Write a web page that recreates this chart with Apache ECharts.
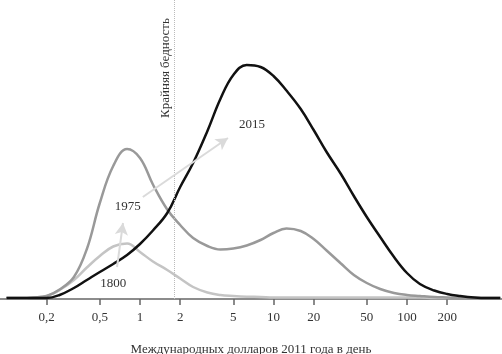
<!DOCTYPE html>
<html>
<head>
<meta charset="utf-8">
<script src="https://cdn.jsdelivr.net/npm/echarts@6/dist/echarts.min.js"></script>
<style>
  html, body { margin: 0; padding: 0; background: #fff; }
  #chart { width: 502px; height: 354px; }
</style>
</head>
<body>
<div id="chart"></div>
<script>
// доход, международных долларов 2011 года в день (10 точек на декаду)
const income = [0.1, 0.125, 0.16, 0.2, 0.25, 0.32, 0.4, 0.5, 0.63, 0.8,
                1, 1.25, 1.6, 2, 2.5, 3.2, 4, 5, 6.3, 8,
                10, 12.5, 16, 20, 25, 32, 40, 50, 63, 80,
                100, 125, 160, 200, 250, 320, 400, 500];
const y1800 = [1, 1, 1.5, 3, 9, 19, 31.5, 43, 52.5, 55.5,
               47, 37.5, 29, 20.5, 12, 6.5, 4, 3, 2.3, 2,
               1.5, 1.5, 1.5, 1.5, 1.5, 1.5, 1.5, 1.5, 1.5, 1.5,
               1.5, 1.5, 1, 1, 1, 1, 1, 1];
const y1975 = [1, 1, 1.5, 3, 9.5, 22, 50, 96, 133, 150,
               141, 114.5, 89.5, 74, 61, 53, 49.5, 50.5, 53.5, 59,
               66, 70.5, 68, 60, 48.5, 35.5, 24, 16, 10, 6,
               4, 3, 2, 1.5, 1, 1, 1, 1];
const y2015 = [1, 1, 1, 1, 4, 11, 19, 27, 35, 44,
               55, 68.5, 86, 112, 136, 168, 200, 224, 234, 232,
               223, 208.5, 190, 169, 147, 125, 103, 82, 62, 42,
               26, 15, 8.5, 5, 3, 1.5, 1, 1];
const tickValues = [0.2, 0.5, 1, 2, 5, 10, 20, 50, 100, 200];
const povertyLine = 1.8;

const pairs = (ys) => income.map((x, i) => [x, ys[i]]);
const font = 'Liberation Serif';
const textLabel = (text, coord, extra) => ({
    coord: coord,
    symbolSize: 0,
    label: Object.assign({
        show: true, formatter: text, color: '#333', fontSize: 13, fontFamily: font
    }, extra || {})
});

const chart = echarts.init(document.getElementById('chart'));
chart.setOption({
    animation: false,
    grid: { left: 0, right: 0, top: 0, bottom: 55, outerBoundsMode: 'none', containLabel: false },
    xAxis: {
        type: 'log',
        logBase: 10,
        min: 0.0894,
        max: 515,
        name: 'Международных долларов 2011 года в день',
        nameLocation: 'middle',
        nameGap: 44,
        nameTextStyle: { color: '#333', fontSize: 13, fontFamily: font },
        axisLine: { lineStyle: { color: '#666', width: 1.5 } },
        axisTick: { show: true, length: 6, customValues: tickValues, lineStyle: { color: '#666', width: 1.5 } },
        axisLabel: {
            customValues: tickValues,
            margin: 12,
            color: '#333', fontSize: 13, fontFamily: font,
            formatter: (v) => String(v).replace('.', ',')
        },
        splitLine: { show: false },
        minorTick: { show: false }
    },
    yAxis: { type: 'value', min: 0, max: 299, show: false },
    series: [
        {
            name: '1800', type: 'line', smooth: 0.4, symbol: 'none',
            lineStyle: { color: '#c4c4c4', width: 2.5 },
            data: pairs(y1800),
            z: 2,
            markLine: {
                silent: true, symbol: 'none',
                label: { show: false },
                lineStyle: { color: '#bbb', type: 'dotted', width: 1 },
                data: [{ xAxis: povertyLine }]
            },
            markPoint: {
                silent: true,
                data: [
                    textLabel('1800', [0.63, 15]),
                    textLabel('Крайняя бедность', [1.55, 231], { rotate: 90 })
                ]
            }
        },
        {
            name: '1975', type: 'line', smooth: 0.4, symbol: 'none',
            lineStyle: { color: '#999', width: 2.5 },
            data: pairs(y1975),
            z: 3,
            markLine: {
                silent: true, symbol: ['none', 'arrow'], symbolSize: [10, 12],
                label: { show: false },
                lineStyle: { color: '#dadada', type: 'solid', width: 2 },
                data: [
                    [{ coord: [0.673, 32] }, { coord: [0.746, 76] }],
                    [{ coord: [1.05, 102] }, { coord: [4.56, 161] }]
                ]
            },
            markPoint: {
                silent: true,
                data: [textLabel('1975', [0.81, 92])]
            }
        },
        {
            name: '2015', type: 'line', smooth: 0.4, symbol: 'none',
            lineStyle: { color: '#111', width: 2.5 },
            data: pairs(y2015),
            z: 4,
            markPoint: {
                silent: true,
                data: [textLabel('2015', [6.9, 174])]
            }
        }
    ]
});
</script>
</body>
</html>
